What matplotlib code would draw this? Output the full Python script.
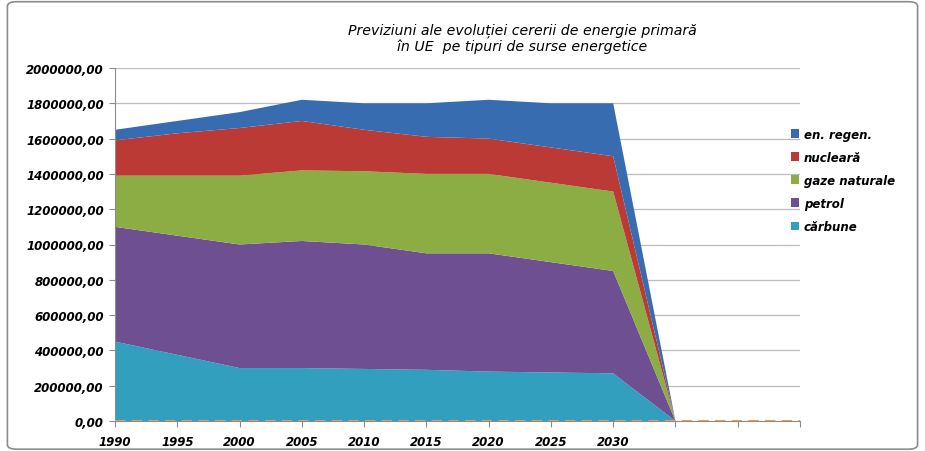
import matplotlib.pyplot as plt
from matplotlib.ticker import FuncFormatter, MultipleLocator
from matplotlib.patches import FancyBboxPatch

# categories (last three are empty in the source sheet)
years = ["1990", "1995", "2000", "2005", "2010", "2015", "2020", "2025", "2030", "", "", ""]

carbune = [450000, 375000, 300000, 300000, 295000, 290000, 280000, 275000, 270000, 0, 0, 0]
petrol = [650000, 675000, 700000, 720000, 705000, 660000, 670000, 625000, 580000, 0, 0, 0]
gaze_naturale = [290000, 340000, 390000, 400000, 415000, 450000, 450000, 450000, 450000, 0, 0, 0]
nucleara = [200000, 240000, 270000, 280000, 235000, 210000, 200000, 200000, 200000, 0, 0, 0]
en_regen = [60000, 70000, 90000, 120000, 150000, 190000, 220000, 250000, 300000, 0, 0, 0]
total_line = [0, 0, 0, 0, 0, 0, 0, 0, 0, 0, 0, 0]

labels = ["cărbune", "petrol", "gaze naturale", "nucleară", "en. regen."]
colors = ["#319FBD", "#6D4F92", "#8BAD43", "#BC3A35", "#386CB0"]

fig = plt.figure(figsize=(9.25, 4.52), dpi=100)
ax = fig.add_axes([115 / 925, 1 - 422 / 452, 685 / 925, 353 / 452])

# chart frame like the spreadsheet border
frame = FancyBboxPatch((0.008, 0.004), 0.984, 0.99, boxstyle="round,pad=0,rounding_size=0.01",
                       transform=fig.transFigure, fill=False, edgecolor="#8c8c8c", linewidth=1.2)
fig.patches.append(frame)

x = list(range(len(years)))
ax.stackplot(x, carbune, petrol, gaze_naturale, nucleara, en_regen,
             colors=colors, labels=labels, zorder=2)
ax.plot(x, total_line, color="#F79646", linestyle=(0, (5, 3)), linewidth=1.5, zorder=3)

ax.set_xlim(0, len(years) - 1)
ax.set_ylim(0, 2000000)
ax.yaxis.set_major_locator(MultipleLocator(200000))
ax.yaxis.set_major_formatter(FuncFormatter(lambda v, p: f"{v:.2f}".replace(".", ",")))
ax.set_xticks(x)
ax.set_xticklabels(years)

for lab in ax.get_xticklabels() + ax.get_yticklabels():
    lab.set_fontstyle("italic")
    lab.set_fontweight("bold")
    lab.set_fontsize(8.5)

ax.grid(True, axis="y", color="#bcbcbc", linewidth=0.9, zorder=0)
ax.set_axisbelow(True)
for side in ["top", "right"]:
    ax.spines[side].set_visible(False)
ax.spines["left"].set_color("#8c8c8c")
ax.spines["bottom"].set_color("#8c8c8c")
ax.tick_params(axis="both", length=4, color="#8c8c8c", pad=4)
ax.tick_params(axis="x", pad=6)

fig.text(522 / 925, 1 - 39 / 452,
         "Previziuni ale evoluției cererii de energie primară\nîn UE  pe tipuri de surse energetice",
         fontsize=10.2, fontstyle="italic", ha="center", va="center", linespacing=1.1)

handles, labs = ax.get_legend_handles_labels()
leg = fig.legend(handles[::-1], labs[::-1], loc="upper left", bbox_to_anchor=(780 / 925, 1 - 118 / 452),
                 frameon=False, handlelength=0.7, handleheight=0.7, handletextpad=0.4,
                 labelspacing=0.85, prop={"style": "italic", "weight": "bold", "size": 8.5})

fig.savefig("out.png", dpi=100)
